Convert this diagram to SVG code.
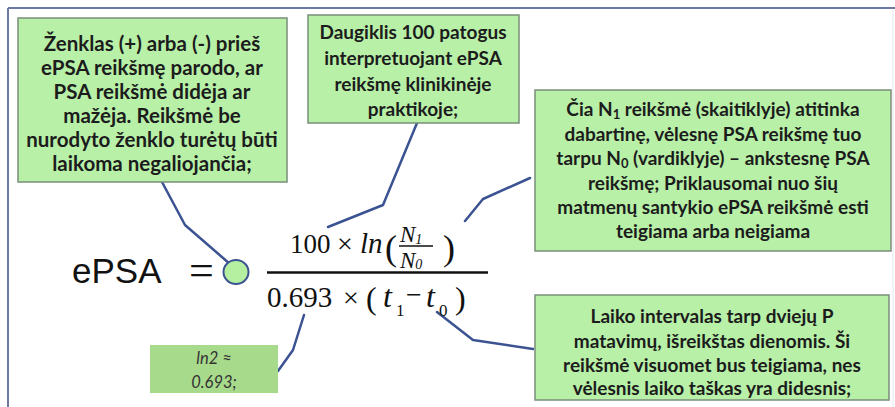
<svg xmlns="http://www.w3.org/2000/svg" width="895" height="407" viewBox="0 0 895 407">
  <style>
    .box { fill: #b8f0a8; stroke: #7a8f7a; stroke-width: 1.5; }
    .bt { font-family: Lato, "Liberation Sans", sans-serif; font-weight: bold; font-size: 19px; fill: #1c1c1c; text-anchor: middle; }
    .big { font-size: 20.5px; }
    .conn { fill: none; stroke: #3b5392; stroke-width: 2.5; stroke-linejoin: round; stroke-linecap: round; }
    .m { font-family: "Liberation Serif", "DejaVu Serif", serif; fill: #111; }
    .mi { font-family: "Liberation Serif", "DejaVu Serif", serif; font-style: italic; fill: #111; }
  </style>
  <rect width="895" height="407" fill="#ffffff"/>
  <g id="frame">
    <line x1="8" y1="8" x2="895" y2="8" stroke="#6d7aa6" stroke-width="2"/>
    <line x1="8" y1="8" x2="8" y2="407" stroke="#6d7aa6" stroke-width="2"/>
    <line x1="893" y1="10" x2="893" y2="407" stroke="#e6e8f0" stroke-width="1"/>
  </g>

  <g id="connectors">
    <polyline class="conn" points="162,182 185,225 230,264"/>
    <polyline class="conn" points="417,123 383,205 328,227"/>
    <polyline class="conn" points="530,178 483,199 465,221"/>
    <polyline class="conn" points="278,371 293,350 304,315"/>
    <polyline class="conn" points="437,312 473,340 533,349"/>
  </g>

  <g id="node-sign">
    <rect class="box" x="18" y="18" width="269" height="164"/>
    <text class="bt big" x="152" y="51">Ženklas (+) arba (-) prieš</text>
    <text class="bt big" x="152" y="75">ePSA reikšmę parodo, ar</text>
    <text class="bt big" x="152" y="99">PSA reikšmė didėja ar</text>
    <text class="bt big" x="152" y="123">mažėja. Reikšmė be</text>
    <text class="bt big" x="152" y="147">nurodyto ženklo turėtų būti</text>
    <text class="bt big" x="152" y="171">laikoma negaliojančia;</text>
  </g>

  <g id="node-multiplier">
    <rect class="box" x="308" y="15" width="211" height="108"/>
    <text class="bt" x="413" y="39">Daugiklis 100 patogus</text>
    <text class="bt" x="413" y="65">interpretuojant ePSA</text>
    <text class="bt" x="413" y="91">reikšmę klinikinėje</text>
    <text class="bt" x="413" y="116">praktikoje;</text>
  </g>

  <g id="node-ratio">
    <rect class="box" x="535" y="90" width="356" height="161"/>
    <text class="bt" x="713" y="116">Čia N<tspan font-size="13" dy="3">1</tspan><tspan dy="-3"> reikšmė (skaitiklyje) atitinka</tspan></text>
    <text class="bt" x="713" y="141">dabartinę, vėlesnę PSA reikšmę tuo</text>
    <text class="bt" x="713" y="165">tarpu N<tspan font-size="13" dy="3">0</tspan><tspan dy="-3"> (vardiklyje) – ankstesnę PSA</tspan></text>
    <text class="bt" x="713" y="190">reikšmę; Priklausomai nuo šių</text>
    <text class="bt" x="713" y="214">matmenų santykio ePSA reikšmė esti</text>
    <text class="bt" x="713" y="238">teigiama arba neigiama</text>
  </g>

  <g id="node-interval">
    <rect class="box" x="535" y="295" width="354" height="105"/>
    <text class="bt" x="712" y="323">Laiko intervalas tarp dviejų P</text>
    <text class="bt" x="712" y="348">matavimų, išreikštas dienomis. Ši</text>
    <text class="bt" x="712" y="372">reikšmė visuomet bus teigiama, nes</text>
    <text class="bt" x="712" y="395">vėlesnis laiko taškas yra didesnis;</text>
  </g>

  <g id="node-ln2">
    <rect x="150" y="345" width="128" height="48" fill="#a8da8c"/>
    <text x="214" y="364" font-family="Lato, 'Liberation Sans', sans-serif" font-style="italic" font-size="16.5" fill="#333" text-anchor="middle">ln2 ≈</text>
    <text x="214" y="388" font-family="Lato, 'Liberation Sans', sans-serif" font-style="italic" font-size="16.5" fill="#333" text-anchor="middle">0.693;</text>
  </g>

  <g id="formula">
    <text x="72" y="283" font-family="'Liberation Sans', Arial, sans-serif" font-size="35" fill="#111">ePSA</text>
    <text class="m" x="189" y="285" font-size="44">=</text>
    <g id="node-sign-dot">
      <ellipse cx="236" cy="272" rx="12.5" ry="12" fill="#b5f0a0" stroke="#3b5392" stroke-width="2"/>
    </g>
    <line x1="267" y1="272.5" x2="488" y2="272.5" stroke="#111" stroke-width="2.5"/>
    <text class="m" x="290" y="253" font-size="27">100</text>
    <text class="m" x="337" y="253" font-size="28">×</text>
    <text class="mi" x="360" y="253" font-size="29">ln</text>
    <text class="m" x="385" y="260" font-size="36">(</text>
    <text class="mi" x="400" y="242" font-size="23">N<tspan font-size="14" dy="2">1</tspan></text>
    <line x1="399" y1="246" x2="433" y2="246" stroke="#111" stroke-width="1.3"/>
    <text class="mi" x="400" y="268" font-size="23">N<tspan font-size="14" dy="1">0</tspan></text>
    <text class="m" x="443" y="260" font-size="36">)</text>
    <text class="m" x="267" y="307" font-size="29">0.693</text>
    <text class="m" x="343" y="307" font-size="28">×</text>
    <text class="m" x="366" y="309" font-size="32">(</text>
    <text class="mi" x="383" y="307" font-size="32">t</text>
    <text class="m" x="396" y="316" font-size="17">1</text>
    <text class="m" x="406" y="304" font-size="28">−</text>
    <text class="mi" x="426" y="307" font-size="32">t</text>
    <text class="m" x="439" y="316" font-size="17">0</text>
    <text class="m" x="455" y="309" font-size="32">)</text>
  </g>
</svg>
